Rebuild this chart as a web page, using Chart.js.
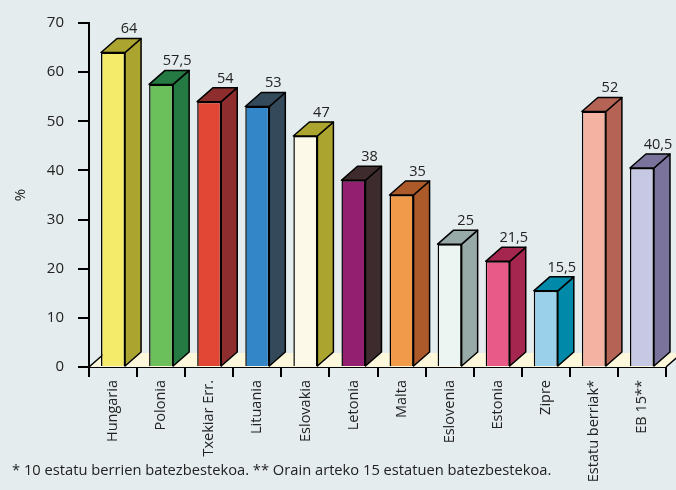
<!DOCTYPE html>
<html>
<head>
<meta charset="utf-8">
<script src="https://cdn.jsdelivr.net/npm/chart.js@4"></script>
<style>
  html, body { margin: 0; padding: 0; background: #e4ecee; }
  #wrap { position: relative; width: 676px; height: 490px; overflow: hidden; }
  #note {
    position: absolute; left: 12px; top: 459px;
    font: 14.7px "Open Sans", sans-serif; color: #222; white-space: nowrap;
  }
</style>
</head>
<body>
<div id="wrap">
  <canvas id="chart" width="676" height="490"></canvas>
  <div id="note">* 10 estatu berrien batezbestekoa. ** Orain arteko 15 estatuen batezbestekoa.</div>
</div>
<script>
"use strict";

const labels = ['Hungaria', 'Polonia', 'Txekiar Err.', 'Lituania', 'Eslovakia', 'Letonia',
  'Malta', 'Eslovenia', 'Estonia', 'Zipre', 'Estatu berriak*', 'EB 15**'];
const values = [64, 57.5, 54, 53, 47, 38, 35, 25, 21.5, 15.5, 52, 40.5];
const frontColors = ['#f5eb6a', '#6cc05c', '#e24736', '#3386c8', '#fcf9e9', '#921f6f',
  '#f09a4a', '#edf5f2', '#e85a88', '#9bd0eb', '#f4b3a2', '#c7c8e4'];
const sideColors = ['#aba42e', '#247a42', '#8e2d2d', '#34495a', '#aba42e', '#3d2b2e',
  '#ad5a2a', '#97aaa8', '#a5274f', '#0089a8', '#b46355', '#7a739b'];

const DX = 16, DY = 14;
const FONT = '"Open Sans", sans-serif';

// floor under the bars
const floorPlugin = {
  id: 'floor',
  beforeDatasetsDraw(chart) {
    const { ctx, chartArea: a } = chart;
    ctx.save();
    ctx.fillStyle = '#fdf8dc';
    ctx.beginPath();
    ctx.moveTo(a.left, a.bottom);
    ctx.lineTo(a.right, a.bottom);
    ctx.lineTo(a.right + DX, a.bottom - DY);
    ctx.lineTo(a.left + DX, a.bottom - DY);
    ctx.closePath();
    ctx.fill();
    ctx.strokeStyle = '#000';
    ctx.lineWidth = 1.5;
    ctx.beginPath();
    ctx.moveTo(a.left, a.bottom);
    ctx.lineTo(a.left + DX, a.bottom - DY);
    ctx.moveTo(a.right, a.bottom);
    ctx.lineTo(a.right + DX, a.bottom - DY);
    ctx.stroke();
    ctx.restore();
  }
};

// side and top faces + value labels
const depthPlugin = {
  id: 'depth',
  afterDatasetsDraw(chart) {
    const { ctx } = chart;
    const meta = chart.getDatasetMeta(0);
    ctx.save();
    ctx.lineWidth = 1.5;
    ctx.strokeStyle = '#000';
    ctx.lineJoin = 'round';
    meta.data.forEach((bar, i) => {
      const l = bar.x - bar.width / 2;
      const r = bar.x + bar.width / 2;
      const t = bar.y, b = bar.base;
      // side
      ctx.fillStyle = sideColors[i];
      ctx.beginPath();
      ctx.moveTo(r, t);
      ctx.lineTo(r + DX, t - DY);
      ctx.lineTo(r + DX, b - DY);
      ctx.lineTo(r, b);
      ctx.closePath();
      ctx.fill();
      ctx.stroke();
      // top
      ctx.beginPath();
      ctx.moveTo(l, t);
      ctx.lineTo(l + DX, t - DY);
      ctx.lineTo(r + DX, t - DY);
      ctx.lineTo(r, t);
      ctx.closePath();
      ctx.fill();
      ctx.stroke();
      // value
      ctx.fillStyle = '#222';
      ctx.font = '14.5px ' + FONT;
      ctx.textAlign = 'center';
      ctx.textBaseline = 'bottom';
      ctx.fillText(String(values[i]).replace('.', ','), bar.x + DX, t - DY - 2);
    });
    ctx.restore();
  }
};

new Chart(document.getElementById('chart'), {
  type: 'bar',
  data: {
    labels: labels,
    datasets: [{
      data: values,
      backgroundColor: frontColors,
      borderColor: '#000',
      borderWidth: 1.5,
      categoryPercentage: 1,
      barPercentage: 0.5
    }]
  },
  options: {
    responsive: false,
    animation: false,
    layout: { padding: { top: 22, right: 10, left: 0, bottom: 0 } },
    plugins: { legend: { display: false }, tooltip: { enabled: false } },
    scales: {
      x: {
        afterFit(scale) { scale.height = 123; },
        border: { color: '#000', width: 2 },
        grid: { display: true, drawOnChartArea: false, offset: true, color: '#000', lineWidth: 2, tickLength: 10 },
        ticks: {
          color: '#222', font: { family: FONT, size: 14.5 },
          minRotation: 90, maxRotation: 90, autoSkip: false, padding: 3
        }
      },
      y: {
        min: 0, max: 70,
        afterFit(scale) { scale.width = 89; },
        border: { color: '#000', width: 2 },
        grid: { display: true, drawOnChartArea: false, color: '#000', lineWidth: 2, tickLength: 11 },
        ticks: { stepSize: 10, color: '#222', font: { family: FONT, size: 15 }, padding: 14 },
        title: { display: true, text: '%', color: '#222', font: { family: FONT, size: 15 }, padding: { top: 12, bottom: 0 } }
      }
    }
  },
  plugins: [floorPlugin, depthPlugin]
});
</script>
</body>
</html>
